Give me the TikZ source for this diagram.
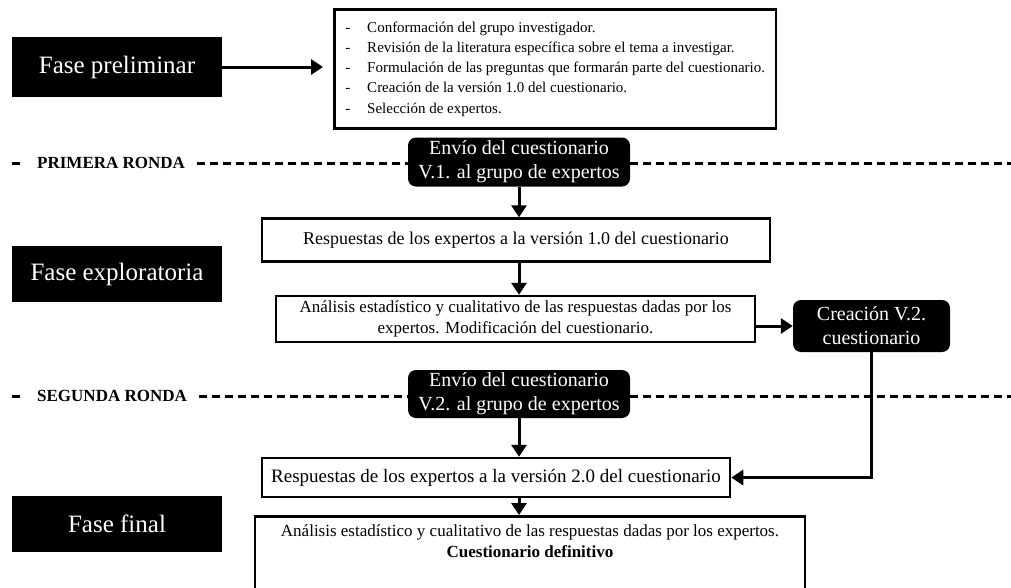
\documentclass[tikz,border=0pt]{standalone}
\usepackage{fontspec}
\setmainfont{Liberation Serif}
\usetikzlibrary{arrows.meta,positioning}

\tikzset{
  fase/.style={fill=black, text=white, minimum width=210, minimum height=56,
    inner sep=0, font=\fontsize{25}{30}\selectfont},
  caja/.style={draw, line width=2.5pt, fill=white, align=center, inner sep=0,
    font=\fontsize{17}{21}\selectfont},
  envio/.style={fill=black, text=white, rounded corners=8, align=center, inner sep=0,
    font=\fontsize{20}{24}\selectfont},
  flecha/.style={line width=3pt, -{Triangle[length=12pt,width=15pt]}},
  ronda/.style={line width=3pt, dash pattern=on 8pt off 5pt},
  etiqueta/.style={anchor=west, inner sep=0, font=\bfseries\fontsize{17}{20}\selectfont}
}

\begin{document}
\begin{tikzpicture}[x=1pt, y=-1pt]
    \useasboundingbox (0,0) rectangle (1011,587);

    % Fases
    \node[fase, minimum height=60] (fp) at (117,67) {Fase preliminar};
    \node[fase] (fe) at (117,274) {Fase exploratoria};
    \node[fase] (ff) at (117,524) {Fase final};

    % Tareas previas
    \node[caja, anchor=north west, align=left, inner xsep=11, inner ysep=0,
          minimum height=119] (lista) at (333,8)
      {\fontsize{15}{20}\selectfont
       \begin{tabular}{@{}l@{\hspace{17pt}}l@{}}
       - & Conformación del grupo investigador.\\
       - & Revisión de la literatura específica sobre el tema a investigar.\\
       - & Formulación de las preguntas que formarán parte del cuestionario.\\
       - & Creación de la versión 1.0 del cuestionario.\\[1pt]
       - & Selección de expertos.
       \end{tabular}};

    % Primera ronda
    \node[envio, minimum width=222, minimum height=49] (envio1) at (519,162)
      {Envío del cuestionario\\V.1. al grupo de expertos};
    \node[etiqueta] (pr) at (37,163) {PRIMERA RONDA};
    \node[caja, minimum width=508, minimum height=43, font=\fontsize{18}{21}\selectfont] (resp1) at (516,240)
      {Respuestas de los expertos a la versión 1.0 del cuestionario};
    \node[caja, minimum width=479, minimum height=46] (analisis) at (515.5,319)
      {Análisis estadístico y cualitativo de las respuestas dadas por los\\expertos. Modificación del cuestionario.};
    \node[envio, minimum width=157, minimum height=52] (crea) at (871.5,326)
      {Creación V.2.\\cuestionario};

    % Segunda ronda
    \node[envio, minimum width=222, minimum height=48] (envio2) at (519,394)
      {Envío del cuestionario\\V.2. al grupo de expertos};
    \node[etiqueta] (sr) at (37,396) {SEGUNDA RONDA};
    \node[caja, minimum width=468, minimum height=39, font=\fontsize{19}{22}\selectfont] (resp2) at (496,477.5)
      {Respuestas de los expertos a la versión 2.0 del cuestionario};
    \node[caja, anchor=north, minimum width=550, minimum height=80, text depth=30pt] (final) at (530,515)
      {Análisis estadístico y cualitativo de las respuestas dadas por los expertos.\\\textbf{Cuestionario definitivo}};

    % Rondas (líneas discontinuas)
    \draw[ronda] ([xshift=-25]pr.west) -- ++(10,0);
    \draw[ronda] ([xshift=12]pr.east) -- (envio1.west |- pr.east);
    \draw[ronda] (envio1.east |- pr.east) -- (1011,163);
    \draw[ronda] ([xshift=-25]sr.west) -- ++(10,0);
    \draw[ronda] ([xshift=12]sr.east) -- (envio2.west |- sr.east);
    \draw[ronda] (envio2.east |- sr.east) -- (1011,396);

    % Flechas
    \draw[flecha, shorten >=10pt] (fp.east) -- (lista.west |- fp.east);
    \draw[flecha] (envio1.south) -- (envio1.south |- resp1.north);
    \draw[flecha] (resp1.south -| envio1.south) -- (envio1.south |- analisis.north);
    \draw[flecha] (analisis.east |- crea.west) -- (crea.west);
    \draw[flecha] (envio2.south) -- (envio2.south |- resp2.north);
    \draw[flecha] (resp2.south -| envio2.south) -- (envio2.south |- final.north);
    \draw[flecha] (crea.south) |- (resp2.east);
\end{tikzpicture}
\end{document}
